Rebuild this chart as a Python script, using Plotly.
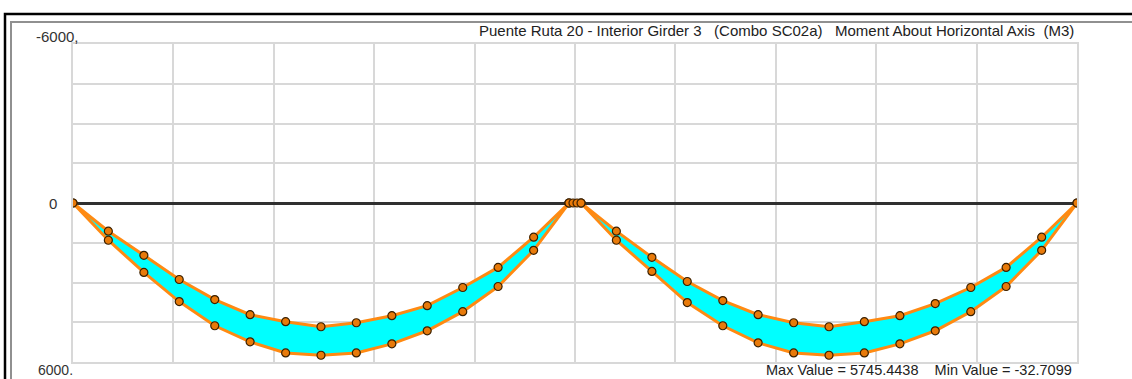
import plotly.graph_objects as go

# ---- data ----
stations = [0.0, 1.76, 3.53, 5.29, 7.06, 8.82, 10.59, 12.35, 14.11, 15.88, 17.64, 19.41, 21.17, 22.94, 24.70]
span2_offset = 25.30
link_x = [24.70, 24.90, 25.10, 25.30]
link_y = [0, 0, 0, 0]

span1_min = [0, 1063, 1974, 2886, 3645, 4215, 4480, 4670, 4518, 4253, 3873, 3189, 2430, 1291, 0]
span1_max = [0, 1405, 2620, 3721, 4632, 5240, 5657, 5745, 5657, 5316, 4822, 4101, 3151, 1785, 0]
span2_min = [0, 1063, 2050, 2962, 3683, 4215, 4518, 4670, 4480, 4253, 3797, 3189, 2430, 1291, 0]
span2_max = [0, 1405, 2582, 3759, 4632, 5278, 5657, 5745, 5657, 5316, 4822, 4101, 3151, 1785, 0]

y_ticks = [-6000, -4500, -3000, -1500, 0, 1500, 3000, 4500, 6000]
x_ticks = [0, 5, 10, 15, 20, 25, 30, 35, 40, 45, 50]

title_text = "Puente Ruta 20 - Interior Girder 3\u00a0\u00a0\u00a0(Combo SC02a)\u00a0\u00a0\u00a0Moment About Horizontal Axis\u00a0\u00a0(M3)"
footer_text = "Max Value = 5745.4438\u00a0\u00a0\u00a0\u00a0Min Value = -32.7099"

# ---- styling ----
W, H = 1132, 379
L, R, T, B = 73, 1077, 44, 362
ORANGE = "#ff8a12"
MK = dict(size=8, color="#e87a0a", line=dict(color="#3a2000", width=1.2))
FONT = "Liberation Sans, Arial, sans-serif"
FS = 15


def pxx(px):
    return (px - L) / (R - L)


def pyy(py):
    return (B - py) / (B - T)


fig = go.Figure()

for xs_off, ymin, ymax in [(0.0, span1_min, span1_max), (span2_offset, span2_min, span2_max)]:
    xs = [s + xs_off for s in stations]
    # cyan band
    fig.add_trace(go.Scatter(
        x=xs + xs[::-1], y=ymin + ymax[::-1], mode="lines", fill="toself",
        fillcolor="#00ffff", line=dict(width=0), hoverinfo="skip", showlegend=False))
    for ys in (ymin, ymax):
        fig.add_trace(go.Scatter(
            x=xs, y=ys, mode="lines+markers", line=dict(color=ORANGE, width=3),
            marker=MK, showlegend=False))

fig.add_trace(go.Scatter(x=link_x, y=link_y, mode="lines+markers",
                         line=dict(color=ORANGE, width=3), marker=MK, showlegend=False))

shapes = [
    # support vertical line
    dict(type="line", xref="x", yref="paper", x0=25, x1=25, y0=0, y1=1,
         line=dict(color="#b8b86a", width=1.5), layer="below"),
    # inner frame (gray) and outer frame (black)
    dict(type="rect", xref="paper", yref="paper", x0=pxx(11), x1=pxx(1160), y0=pyy(22), y1=pyy(400),
         line=dict(color="#909090", width=2), fillcolor="rgba(0,0,0,0)"),
    dict(type="rect", xref="paper", yref="paper", x0=pxx(5), x1=pxx(1160), y0=pyy(14), y1=pyy(400),
         line=dict(color="#000000", width=2.5), fillcolor="rgba(0,0,0,0)"),
]

annotations = [
    dict(text="-6000,", xref="paper", yref="paper", x=pxx(81), y=pyy(37), xanchor="right", yanchor="middle",
         showarrow=False, font=dict(size=FS, color="#333333", family=FONT)),
    dict(text="0", xref="paper", yref="y", x=pxx(59), y=0, xanchor="right", yanchor="middle",
         showarrow=False, font=dict(size=FS, color="#333333", family=FONT)),
    dict(text="6000.", xref="paper", yref="paper", x=pxx(75), y=pyy(370), xanchor="right", yanchor="middle",
         showarrow=False, font=dict(size=14, color="#333333", family=FONT)),
    dict(text=title_text, xref="paper", yref="paper", x=pxx(1076), y=pyy(31), xanchor="right", yanchor="middle",
         showarrow=False, font=dict(size=FS, color="#222222", family=FONT)),
    dict(text=footer_text, xref="paper", yref="paper", x=pxx(1074), y=pyy(370), xanchor="right", yanchor="middle",
         showarrow=False, font=dict(size=14.5, color="#222222", family=FONT)),
]

fig.update_layout(
    width=W, height=H,
    margin=dict(l=L, r=W - R, t=T, b=H - B, pad=0),
    paper_bgcolor="white", plot_bgcolor="white",
    shapes=shapes, annotations=annotations,
    showlegend=False,
    xaxis=dict(range=[0, 50], tickvals=x_ticks, showticklabels=False, ticks="",
               showgrid=True, gridcolor="#d8d8d8", gridwidth=2, zeroline=False,
               showline=True, mirror=True, linecolor="#d8d8d8", linewidth=2, fixedrange=True),
    yaxis=dict(range=[6000, -6000], tickvals=y_ticks, showticklabels=False, ticks="",
               showgrid=True, gridcolor="#d8d8d8", gridwidth=2,
               zeroline=True, zerolinecolor="#303030", zerolinewidth=3,
               showline=True, mirror=True, linecolor="#d8d8d8", linewidth=2, fixedrange=True),
)

fig.write_html("out.html", config={"displayModeBar": False},
               post_script="document.body.style.margin='0';document.body.style.overflow='hidden';")
